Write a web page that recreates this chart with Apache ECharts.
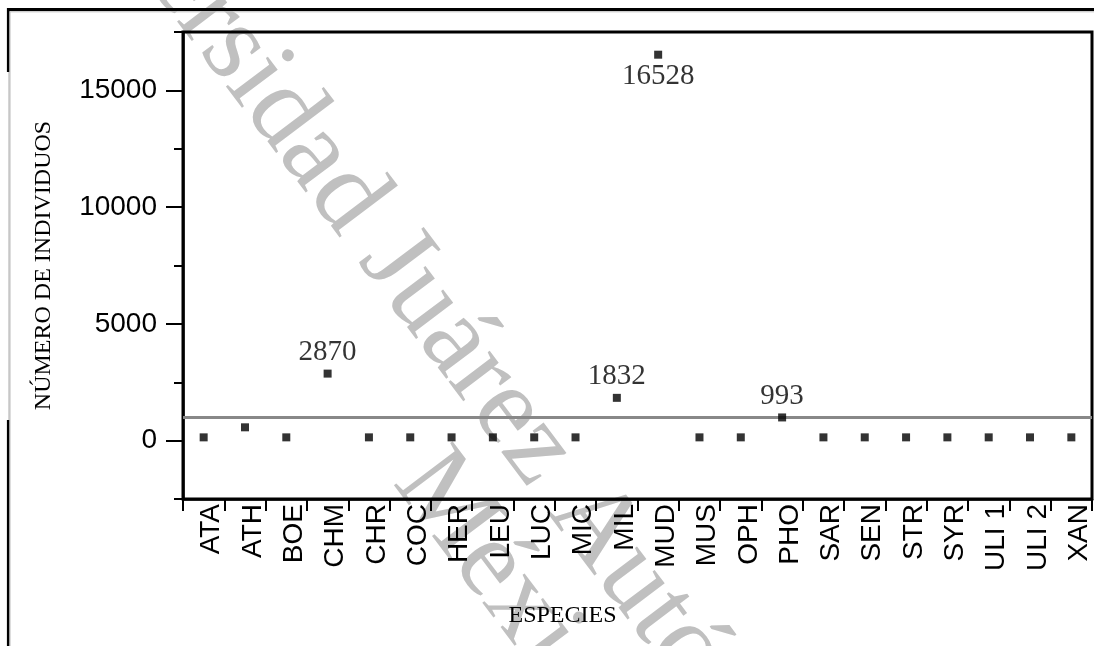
<!DOCTYPE html>
<html><head><meta charset="utf-8">
<script src="https://cdn.jsdelivr.net/npm/echarts@6/dist/echarts.min.js"></script>
<style>html,body{margin:0;padding:0;background:#fff}#c{width:1097px;height:646px}</style>
</head><body><div id="c"></div>
<script>
const categories = ['ATA','ATH','BOE','CHM','CHR','COC','HER','LEU','LUC','MIC','MIL','MUD','MUS','OPH','PHO','SAR','SEN','STR','SYR','ULI 1','ULI 2','XAN'];
const values = [140,570,140,2870,140,140,140,140,140,140,1832,16528,140,140,993,140,140,140,140,140,140,140];
const labelled = ['CHM','MIL','MUD','PHO'];
const refLine = 1000;
const yMin = -2500, yMax = 17500, yStep = 2500;
const yLabels = [0,5000,10000,15000];
const watermark = ['Universidad Juárez Autónoma de Tabasco','México'];

const chart = echarts.init(document.getElementById('c'), null, {renderer:'canvas'});
const sans = 'Liberation Sans', serif = 'Liberation Serif';
const rot = -53 * Math.PI / 180;
chart.setOption({
  animation:false,
  backgroundColor:'#fff',
  grid:{left:183,right:5,top:32,bottom:147,show:true,borderColor:'#000',borderWidth:3,containLabel:false},
  xAxis:{type:'category',data:categories,boundaryGap:true,
    axisLine:{onZero:false,lineStyle:{color:'#000',width:2.5}},
    axisTick:{show:true,alignWithLabel:false,length:12,lineStyle:{color:'#000',width:2}},
    axisLabel:{rotate:90,interval:0,margin:5,fontFamily:sans,fontSize:28,color:'#000',verticalAlign:'top',lineHeight:16},
    splitLine:{show:false},
    name:'ESPECIES',nameLocation:'middle',nameGap:105,
    nameTextStyle:{fontFamily:serif,fontSize:24,color:'#000',padding:[0,150,0,0]}},
  yAxis:[
    {type:'value',min:yMin,max:yMax,interval:yStep,
     axisLine:{show:true,lineStyle:{color:'#000',width:2.5}},
     axisTick:{show:true,length:9,lineStyle:{color:'#000',width:2}},
     axisLabel:{customValues:yLabels,margin:26,fontFamily:sans,fontSize:28,color:'#000',formatter:v=>String(v)},
     splitLine:{show:false},
     name:'NÚMERO DE INDIVIDUOS',nameLocation:'middle',nameGap:127,
     nameTextStyle:{fontFamily:serif,fontSize:24,color:'#000'}},
    {type:'value',min:yMin,max:yMax,interval:yStep,position:'left',
     axisLine:{show:false},
     axisTick:{show:true,customValues:yLabels,length:17,lineStyle:{color:'#000',width:2}},
     axisLabel:{show:false},splitLine:{show:false}}
  ],
  series:[{
    type:'scatter',symbol:'rect',symbolSize:8,itemStyle:{color:'#000'},
    label:{fontFamily:serif,fontSize:29,color:'#000',distance:3,formatter:p=>String(p.value)},
    data:values.map((v,i)=>({value:v,label:{show:labelled.includes(categories[i]),position:v>10000?'bottom':'top'}})),
    markLine:{silent:true,symbol:'none',label:{show:false},lineStyle:{color:'#888',width:3,type:'solid'},data:[{yAxis:refLine}],z:1},
    z:3
  }],
  graphic:[
    {type:'group',x:603,y:538,rotation:rot,z:-1,silent:true,children:[
      {type:'text',x:0,y:0,z:-1,style:{text:watermark[0],font:'112px "Liberation Serif"',fill:'#c0c0c0',align:'center',verticalAlign:'middle'}},
      {type:'text',x:0,y:106,z:-1,style:{text:watermark[1],font:'112px "Liberation Serif"',fill:'#c0c0c0',align:'center',verticalAlign:'middle'}}
    ]},
    {type:'line',shape:{x1:8,y1:9.5,x2:1094,y2:9.5},style:{stroke:'#000',lineWidth:3}},
    {type:'line',shape:{x1:10,y1:11.8,x2:1094,y2:11.8},style:{stroke:'#bbb',lineWidth:1}},
    {type:'line',shape:{x1:8.2,y1:8,x2:8.2,y2:72},style:{stroke:'#000',lineWidth:2.6}},
    {type:'line',shape:{x1:9,y1:72,x2:9,y2:420},style:{stroke:'#aaa',lineWidth:1}},
    {type:'line',shape:{x1:8.2,y1:420,x2:8.2,y2:646},style:{stroke:'#000',lineWidth:2.6}},
    {type:'line',shape:{x1:10,y1:12,x2:10,y2:646},style:{stroke:'#bbb',lineWidth:1}}
  ]
});
</script></body></html>
